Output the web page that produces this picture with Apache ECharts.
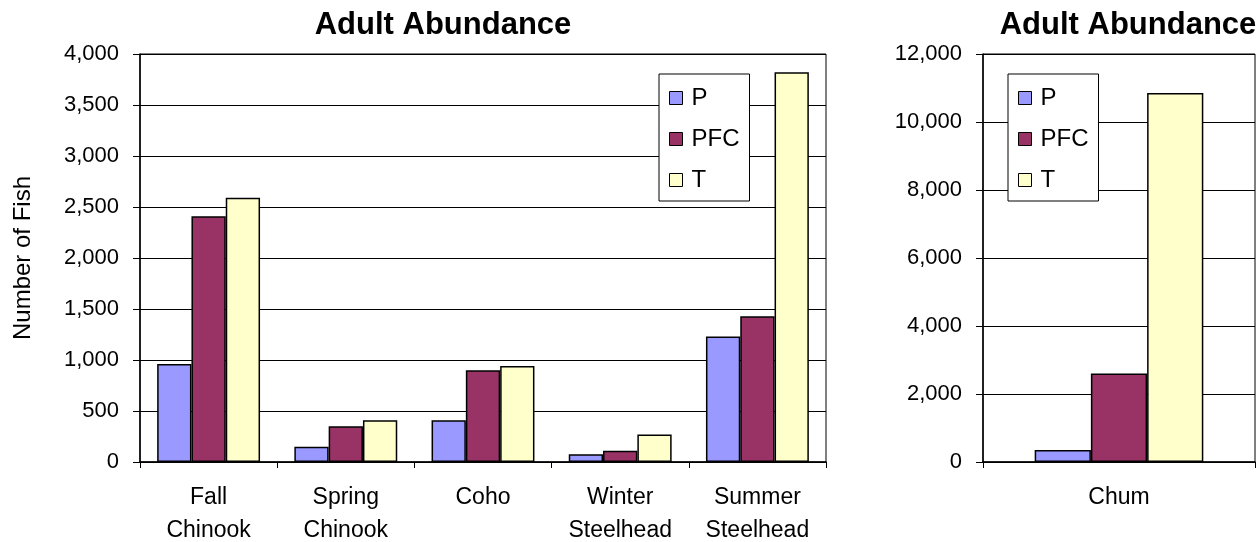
<!DOCTYPE html>
<html>
<head>
<meta charset="utf-8">
<script src="https://cdn.jsdelivr.net/npm/echarts@6/dist/echarts.min.js"></script>
<style>
html,body{margin:0;padding:0;background:#fff;}
#chart{width:1257px;height:542px;}
</style>
</head>
<body>
<div id="chart"></div>
<script>
// left panel
var categories = ['Fall\nChinook', 'Spring\nChinook', 'Coho', 'Winter\nSteelhead', 'Summer\nSteelhead'];
var pValues = [960, 150, 410, 75, 1230];
var pfcValues = [2410, 350, 900, 110, 1430];
var tValues = [2590, 410, 940, 270, 3820];
var leftTicks = [0, 500, 1000, 1500, 2000, 2500, 3000, 3500, 4000];

// right panel
var chumCategories = ['Chum'];
var chumP = [350];
var chumPFC = [2600];
var chumT = [10850];
var rightTicks = [0, 2000, 4000, 6000, 8000, 10000, 12000];

var seriesNames = ['P', 'PFC', 'T'];
var seriesColors = ['#9999FF', '#993366', '#FFFFCC'];

var font = 'Liberation Sans, Arial, sans-serif';

function fmt(v){
    return v.toLocaleString('en-US');
}

function makeBar(name, color, data, idx, gap){
    return {
        name: name,
        type: 'bar',
        xAxisIndex: idx,
        yAxisIndex: idx,
        data: data,
        barGap: '0%',
        barCategoryGap: gap,
        itemStyle: {color: color, borderColor: '#000', borderWidth: 1.5},
        emphasis: {disabled: true}
    };
}

function makeLegend(left){
    return {
        left: left,
        top: 74,
        orient: 'vertical',
        data: seriesNames,
        icon: 'rect',
        itemWidth: 13,
        itemHeight: 13,
        itemGap: 17,
        padding: [12, 10, 9, 10],
        backgroundColor: '#fff',
        borderColor: '#000',
        borderWidth: 1,
        borderRadius: 0,
        selectedMode: false,
        itemStyle: {borderColor: '#000', borderWidth: 1},
        textStyle: {fontFamily: font, fontSize: 24, color: '#000', padding: [0, 0, 0, 4]}
    };
}

function makeValueAxis(idx, ticks, name){
    return {
        type: 'value',
        gridIndex: idx,
        min: ticks[0],
        max: ticks[ticks.length - 1],
        interval: ticks[1] - ticks[0],
        name: name,
        nameLocation: 'middle',
        nameGap: 105,
        nameTextStyle: {fontFamily: font, fontSize: 24, color: '#000'},
        axisLine: {show: true, lineStyle: {color: '#000', width: 1.5}},
        axisTick: {show: true, length: 7, lineStyle: {color: '#000'}},
        axisLabel: {fontFamily: font, fontSize: 22, color: '#000', margin: 21, formatter: fmt},
        splitLine: {show: true, lineStyle: {color: '#000', width: 1}}
    };
}

function makeCatAxis(idx, cats){
    return {
        type: 'category',
        gridIndex: idx,
        data: cats,
        axisLine: {show: true, lineStyle: {color: '#000', width: 1.5}},
        axisTick: {show: true, length: 6, interval: 0, lineStyle: {color: '#000'}},
        axisLabel: {interval: 0, fontFamily: font, fontSize: 23, color: '#000', lineHeight: 33, margin: 19}
    };
}

var myChart = echarts.init(document.getElementById('chart'));
myChart.setOption({
    animation: false,
    title: [
        {text: 'Adult Abundance', left: 438, top: 5, textAlign: 'center',
         textStyle: {fontFamily: font, fontSize: 31, fontWeight: 'bold', color: '#000'}},
        {text: 'Adult Abundance', left: 1123, top: 5, textAlign: 'center',
         textStyle: {fontFamily: font, fontSize: 31, fontWeight: 'bold', color: '#000'}}
    ],
    legend: [makeLegend(659), makeLegend(1008)],
    grid: [
        {left: 140, top: 54, width: 686, height: 408, show: true, borderColor: '#000', borderWidth: 1,
         containLabel: false, outerBoundsMode: 'none'},
        {left: 983, top: 54, width: 272, height: 408, show: true, borderColor: '#000', borderWidth: 1,
         containLabel: false, outerBoundsMode: 'none'}
    ],
    xAxis: [makeCatAxis(0, categories), makeCatAxis(1, chumCategories)],
    yAxis: [makeValueAxis(0, leftTicks, 'Number of Fish'), makeValueAxis(1, rightTicks, '')],
    series: [
        makeBar(seriesNames[0], seriesColors[0], pValues, 0, '25%'),
        makeBar(seriesNames[1], seriesColors[1], pfcValues, 0, '25%'),
        makeBar(seriesNames[2], seriesColors[2], tValues, 0, '25%'),
        makeBar(seriesNames[0], seriesColors[0], chumP, 1, '38%'),
        makeBar(seriesNames[1], seriesColors[1], chumPFC, 1, '38%'),
        makeBar(seriesNames[2], seriesColors[2], chumT, 1, '38%')
    ]
});
</script>
</body>
</html>
